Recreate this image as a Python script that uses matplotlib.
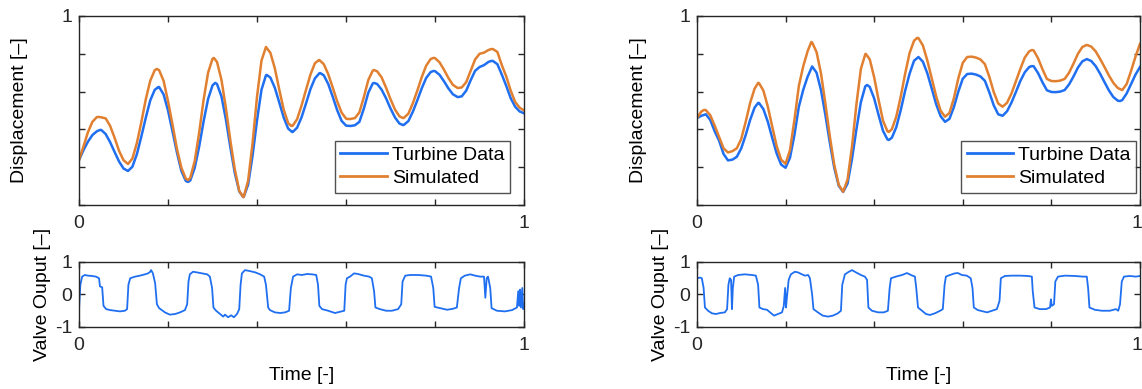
import numpy as np
import matplotlib
matplotlib.use("Agg")
import matplotlib.pyplot as plt
from matplotlib.transforms import ScaledTranslation

plt.rcParams['font.family'] = ['Liberation Sans', 'DejaVu Sans']

# normalised time grid for the displacement traces
t_disp = np.linspace(0, 1, 101)

# case 1 displacement
turbine_1 = [0.238, 0.29, 0.335, 0.37, 0.39, 0.397, 0.375, 0.332, 0.28, 0.23,
             0.193, 0.18, 0.203, 0.269, 0.362, 0.462, 0.553, 0.609, 0.624, 0.585,
             0.5, 0.39, 0.278, 0.18, 0.127, 0.13, 0.197, 0.31, 0.444, 0.561,
             0.633, 0.64, 0.575, 0.453, 0.306, 0.169, 0.072, 0.043, 0.108, 0.262,
             0.449, 0.61, 0.686, 0.674, 0.62, 0.542, 0.462, 0.404, 0.386, 0.409,
             0.464, 0.537, 0.613, 0.67, 0.697, 0.686, 0.64, 0.573, 0.502, 0.445,
             0.42, 0.418, 0.422, 0.44, 0.51, 0.594, 0.643, 0.64, 0.61, 0.564,
             0.51, 0.463, 0.431, 0.424, 0.444, 0.493, 0.553, 0.617, 0.672, 0.703,
             0.708, 0.689, 0.655, 0.617, 0.586, 0.572, 0.575, 0.605, 0.66, 0.71,
             0.73, 0.74, 0.757, 0.762, 0.745, 0.69, 0.63, 0.565, 0.52, 0.495,
             0.485]
simulated_1 = [0.238, 0.31, 0.385, 0.44, 0.465, 0.464, 0.458, 0.418, 0.355, 0.286,
               0.237, 0.217, 0.246, 0.328, 0.438, 0.559, 0.657, 0.713, 0.713, 0.657,
               0.549, 0.426, 0.297, 0.197, 0.139, 0.144, 0.233, 0.384, 0.558, 0.70,
               0.774, 0.757, 0.663, 0.513, 0.341, 0.189, 0.075, 0.043, 0.129, 0.328,
               0.574, 0.764, 0.836, 0.805, 0.723, 0.61, 0.504, 0.433, 0.419, 0.454,
               0.526, 0.609, 0.69, 0.75, 0.767, 0.745, 0.692, 0.622, 0.549, 0.489,
               0.457, 0.455, 0.46, 0.49, 0.571, 0.661, 0.711, 0.707, 0.675, 0.62,
               0.559, 0.505, 0.469, 0.461, 0.483, 0.538, 0.604, 0.676, 0.737, 0.772,
               0.777, 0.755, 0.716, 0.672, 0.636, 0.62, 0.622, 0.65, 0.71, 0.77,
               0.80, 0.806, 0.82, 0.825, 0.81, 0.74, 0.68, 0.605, 0.545, 0.515,
               0.50]
# turning points read between grid samples
turbine_1_ext_t = [0.047, 0.110, 0.178, 0.245, 0.306, 0.369, 0.422, 0.479, 0.542,
                   0.663, 0.728, 0.796, 0.852, 0.926]
turbine_1_ext = [0.397, 0.18, 0.624, 0.122, 0.646, 0.042, 0.688, 0.386, 0.698,
                 0.646, 0.423, 0.709, 0.571, 0.762]
simulated_1_ext_t = [0.043, 0.175, 0.245, 0.303, 0.369, 0.477, 0.539, 0.604, 0.663,
                     0.728, 0.796, 0.852, 0.926]
simulated_1_ext = [0.466, 0.72, 0.132, 0.778, 0.042, 0.418, 0.767, 0.455, 0.714,
                   0.46, 0.778, 0.619, 0.825]

# case 2 displacement
turbine_2 = [0.46, 0.472, 0.48, 0.45, 0.39, 0.34, 0.27, 0.236, 0.24, 0.255,
             0.30, 0.37, 0.45, 0.515, 0.54, 0.507, 0.44, 0.354, 0.272, 0.214,
             0.197, 0.25, 0.37, 0.52, 0.61, 0.68, 0.733, 0.70, 0.608, 0.475,
             0.329, 0.196, 0.102, 0.069, 0.114, 0.244, 0.401, 0.544, 0.628, 0.625,
             0.564, 0.476, 0.392, 0.347, 0.356, 0.412, 0.502, 0.605, 0.695, 0.763,
             0.783, 0.758, 0.697, 0.616, 0.533, 0.47, 0.44, 0.456, 0.518, 0.60,
             0.668, 0.693, 0.695, 0.69, 0.68, 0.657, 0.596, 0.527, 0.48, 0.472,
             0.496, 0.542, 0.598, 0.656, 0.702, 0.73, 0.734, 0.698, 0.649, 0.607,
             0.598, 0.597, 0.60, 0.608, 0.638, 0.68, 0.727, 0.76, 0.772, 0.762,
             0.735, 0.695, 0.65, 0.606, 0.571, 0.552, 0.555, 0.59, 0.64, 0.69,
             0.73]
simulated_2 = [0.46, 0.495, 0.502, 0.475, 0.42, 0.36, 0.30, 0.278, 0.285, 0.30,
               0.35, 0.44, 0.54, 0.615, 0.645, 0.605, 0.52, 0.414, 0.311, 0.24,
               0.218, 0.29, 0.45, 0.63, 0.735, 0.815, 0.86, 0.809, 0.696, 0.535,
               0.362, 0.212, 0.107, 0.07, 0.135, 0.31, 0.533, 0.72, 0.798, 0.771,
               0.676, 0.556, 0.446, 0.39, 0.401, 0.468, 0.573, 0.695, 0.804, 0.869,
               0.883, 0.844, 0.765, 0.67, 0.575, 0.499, 0.467, 0.487, 0.565, 0.67,
               0.752, 0.783, 0.785, 0.78, 0.77, 0.745, 0.678, 0.597, 0.537, 0.52,
               0.541, 0.59, 0.655, 0.72, 0.78, 0.813, 0.818, 0.776, 0.718, 0.667,
               0.656, 0.655, 0.658, 0.667, 0.70, 0.748, 0.80, 0.836, 0.847, 0.838,
               0.813, 0.773, 0.73, 0.685, 0.646, 0.619, 0.608, 0.64, 0.71, 0.785,
               0.852]
turbine_2_ext_t = [0.138, 0.384, 0.433, 0.756, 0.955]
turbine_2_ext = [0.54, 0.635, 0.344, 0.735, 0.55]
simulated_2_ext_t = [0.016, 0.138, 0.258, 0.381, 0.433, 0.497, 0.756]
simulated_2_ext = [0.503, 0.646, 0.862, 0.80, 0.386, 0.884, 0.82]

# valve output, case 1
t_valve_1 = [0.000, 0.003, 0.007, 0.013, 0.020, 0.029, 0.038, 0.045, 0.047, 0.052,
             0.055, 0.061, 0.070, 0.081, 0.092, 0.103, 0.108, 0.111, 0.115, 0.126,
             0.137, 0.148, 0.155, 0.160, 0.162, 0.166, 0.171, 0.175, 0.180, 0.193,
             0.204, 0.216, 0.227, 0.238, 0.243, 0.246, 0.249, 0.256, 0.265, 0.276,
             0.288, 0.294, 0.299, 0.302, 0.308, 0.317, 0.324, 0.328, 0.335, 0.342,
             0.348, 0.355, 0.360, 0.363, 0.366, 0.373, 0.384, 0.396, 0.407, 0.416,
             0.420, 0.425, 0.429, 0.440, 0.452, 0.463, 0.472, 0.476, 0.481, 0.490,
             0.501, 0.512, 0.524, 0.533, 0.537, 0.540, 0.546, 0.560, 0.575, 0.587,
             0.596, 0.599, 0.602, 0.609, 0.618, 0.627, 0.640, 0.652, 0.658, 0.663,
             0.666, 0.676, 0.690, 0.703, 0.717, 0.724, 0.727, 0.733, 0.744, 0.762,
             0.780, 0.791, 0.796, 0.799, 0.811, 0.827, 0.840, 0.849, 0.854, 0.858,
             0.867, 0.879, 0.890, 0.901, 0.910, 0.913, 0.916, 0.919, 0.924, 0.927,
             0.939, 0.957, 0.973, 0.984, 0.987, 0.989, 0.991, 0.993, 0.996, 0.998,
             1.000]
valve_1 = [-0.45, 0.3, 0.55, 0.6, 0.58, 0.57, 0.55, 0.5, 0.25, 0.22,
           -0.35, -0.45, -0.48, -0.5, -0.52, -0.5, -0.45, 0.3, 0.5, 0.55,
           0.58, 0.62, 0.65, 0.7, 0.75, 0.65, 0.35, -0.3, -0.42, -0.55,
           -0.62, -0.6, -0.55, -0.48, -0.3, 0.4, 0.62, 0.7, 0.68, 0.65,
           0.62, 0.55, 0.2, -0.4, -0.5, -0.6, -0.68, -0.62, -0.7, -0.64,
           -0.7, -0.6, -0.45, 0.3, 0.65, 0.75, 0.72, 0.68, 0.62, 0.55,
           0.3, -0.4, -0.48, -0.55, -0.57, -0.55, -0.5, 0.2, 0.55, 0.62,
           0.6, 0.63, 0.62, 0.6, 0.3, -0.35, -0.45, -0.5, -0.57, -0.53,
           -0.5, 0.3, 0.5, 0.55, 0.65, 0.63, 0.58, 0.55, 0.5, 0.1,
           -0.4, -0.45, -0.5, -0.5, -0.45, -0.3, 0.4, 0.58, 0.6, 0.6,
           0.58, 0.55, 0.2, -0.38, -0.42, -0.47, -0.44, -0.4, 0.2, 0.5,
           0.58, 0.62, 0.58, 0.55, 0.55, -0.1, 0.5, 0.55, 0.2, -0.42,
           -0.5, -0.52, -0.48, -0.4, 0.1, -0.35, 0.15, -0.4, 0.2, -0.45,
           -0.3]

# valve output, case 2
t_valve_2 = [0.000, 0.007, 0.011, 0.015, 0.018, 0.025, 0.034, 0.043, 0.052, 0.063,
             0.068, 0.071, 0.074, 0.077, 0.079, 0.081, 0.084, 0.093, 0.108, 0.124,
             0.133, 0.138, 0.141, 0.149, 0.158, 0.165, 0.174, 0.183, 0.192, 0.196,
             0.199, 0.201, 0.203, 0.207, 0.212, 0.221, 0.228, 0.237, 0.244, 0.251,
             0.255, 0.260, 0.263, 0.273, 0.284, 0.296, 0.307, 0.318, 0.325, 0.328,
             0.334, 0.343, 0.350, 0.359, 0.370, 0.379, 0.384, 0.387, 0.395, 0.409,
             0.422, 0.431, 0.435, 0.438, 0.449, 0.463, 0.474, 0.483, 0.492, 0.495,
             0.499, 0.508, 0.517, 0.526, 0.537, 0.549, 0.555, 0.559, 0.562, 0.571,
             0.582, 0.589, 0.598, 0.609, 0.618, 0.622, 0.625, 0.634, 0.646, 0.655,
             0.666, 0.677, 0.683, 0.686, 0.695, 0.711, 0.729, 0.747, 0.756, 0.758,
             0.762, 0.774, 0.788, 0.797, 0.799, 0.801, 0.806, 0.809, 0.815, 0.831,
             0.853, 0.871, 0.880, 0.883, 0.886, 0.898, 0.914, 0.932, 0.946, 0.951,
             0.955, 0.959, 0.964, 0.977, 0.991, 1.000]
valve_2 = [0.5, 0.52, 0.5, 0.2, -0.4, -0.5, -0.58, -0.6, -0.57, -0.55,
           -0.45, 0.3, 0.5, 0.45, -0.45, 0.2, 0.55, 0.6, 0.62, 0.6,
           0.58, 0.3, -0.4, -0.45, -0.47, -0.55, -0.65, -0.6, -0.55, -0.35,
           0.2, -0.4, -0.1, 0.45, 0.62, 0.7, 0.68, 0.62, 0.58, 0.6,
           0.5, 0.0, -0.45, -0.55, -0.65, -0.68, -0.65, -0.58, -0.5, 0.3,
           0.62, 0.7, 0.75, 0.68, 0.6, 0.55, 0.45, -0.4, -0.5, -0.55,
           -0.55, -0.5, 0.2, 0.5, 0.55, 0.6, 0.66, 0.6, 0.55, 0.2,
           -0.4, -0.5, -0.6, -0.63, -0.58, -0.5, -0.45, 0.3, 0.55, 0.6,
           0.65, 0.66, 0.6, 0.58, 0.5, 0.2, -0.4, -0.48, -0.52, -0.55,
           -0.5, -0.45, -0.2, 0.5, 0.57, 0.58, 0.58, 0.57, 0.55, 0.1,
           -0.4, -0.45, -0.45, -0.4, -0.15, -0.35, -0.3, 0.4, 0.55, 0.58,
           0.57, 0.55, 0.55, 0.2, -0.4, -0.47, -0.5, -0.5, -0.45, -0.5,
           -0.3, 0.4, 0.55, 0.57, 0.55, 0.57]

blue = '#1f6ff0'
orange = '#e08030'
dark = '#262626'


def merged(grid_vals, ext_t, ext_vals):
    # grid samples plus the turning points, in time order
    t = np.concatenate([t_disp, ext_t])
    v = np.concatenate([grid_vals, ext_vals])
    order = np.argsort(t, kind='stable')
    return t[order], v[order]


def style_axes(ax):
    for s in ax.spines.values():
        s.set_color(dark)
        s.set_linewidth(1.0)
    ax.tick_params(direction='in', top=True, right=True, length=4, width=1.0,
                   colors=dark, labelsize=14, labelcolor=dark)
    ax.tick_params(axis='x', pad=7)
    ax.tick_params(axis='y', pad=5)
    ax.set_xlim(0, 1)
    ax.set_xticks(np.arange(0, 1.01, 0.2))
    ax.set_xticklabels(['0', '', '', '', '', '1'])


fig = plt.figure(figsize=(11.42, 3.89), dpi=100)

panels = [
    (0.0692, 0.3897, 0.969, (turbine_1, turbine_1_ext_t, turbine_1_ext),
     (simulated_1, simulated_1_ext_t, simulated_1_ext), t_valve_1, valve_1),
    (0.6103, 0.3879, 0.992, (turbine_2, turbine_2_ext_t, turbine_2_ext),
     (simulated_2, simulated_2_ext_t, simulated_2_ext), t_valve_2, valve_2),
]

for i, (left, width, leg_x, turb, sim, tv, valve) in enumerate(panels):
    ax = fig.add_axes([left, 0.473, width, 0.4859])
    ax.plot(*merged(*turb), color=blue, lw=1.8, label='Turbine Data')
    ax.plot(*merged(*sim), color=orange, lw=1.8, label='Simulated')
    style_axes(ax)
    ax.set_ylim(0, 1)
    ax.set_yticks(np.arange(0, 1.01, 0.2))
    ax.set_yticklabels(['', '', '', '', '', '1'])
    ax.set_ylabel('Displacement [\u2013]', fontsize=14, va='center')
    ax.yaxis.set_label_coords(-0.133, 0.5)
    leg = ax.legend(loc='lower right', bbox_to_anchor=(leg_x, 0.063), fontsize=14,
                    frameon=True, fancybox=False, handlelength=2.4,
                    handletextpad=0.25, labelspacing=0.28, borderpad=0.3,
                    borderaxespad=0)
    leg.get_frame().set_edgecolor(dark)
    leg.get_frame().set_linewidth(1.0)
    for h in leg.get_lines():
        h.set_linewidth(2.0)

    bx = fig.add_axes([left, 0.1594, width, 0.1671])
    bx.plot(tv, valve, color=blue, lw=1.3)
    style_axes(bx)
    bx.set_ylim(-1, 1)
    bx.set_yticks([-1, 0, 1])
    bx.set_yticklabels(['-1', '0', '1'])
    bx.set_ylabel('Valve Ouput [\u2013]', fontsize=14, va='center')
    bx.yaxis.set_label_coords(-0.083, 0.5)
    bx.set_xlabel('Time [-]', fontsize=14, va='center')
    bx.xaxis.set_label_coords(0.5, -0.74)

    # keep the end label of the right-hand panels inside the canvas
    if i == 1:
        for a in (ax, bx):
            lab = a.get_xticklabels()[-1]
            lab.set_transform(lab.get_transform() +
                              ScaledTranslation(-3 / 100, 0, fig.dpi_scale_trans))

fig.savefig('out.png', dpi=100, facecolor='white')
